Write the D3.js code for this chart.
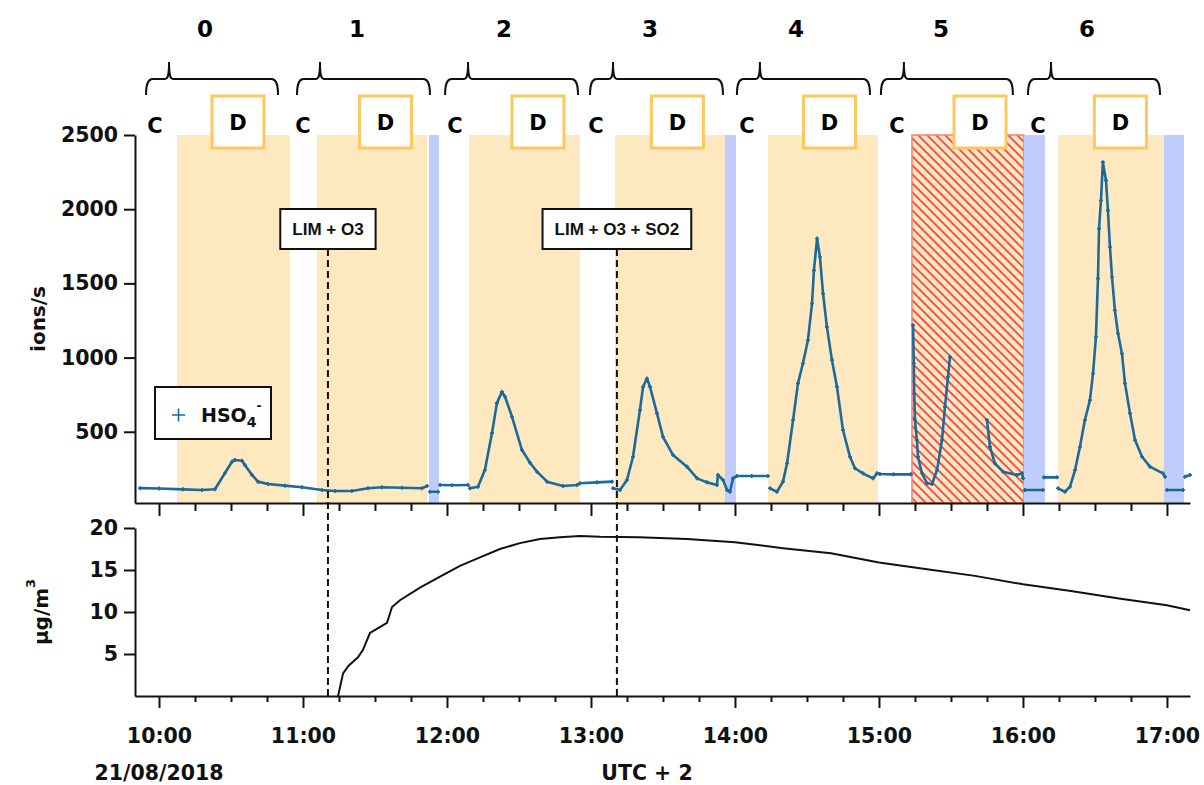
<!DOCTYPE html>
<html><head><meta charset="utf-8">
<script src="https://cdn.jsdelivr.net/npm/d3@7"></script>
<style>body{margin:0;background:#fff}svg{display:block}</style>
</head><body>
<svg id="c" width="1204" height="785"></svg>
<script>
// ---------- data (times in minutes since midnight, 21/08/2018, UTC+2) ----------
const hsoTime = [592.1,600,610,617.9,623.3,627.5,630.4,631.7,634.6,635.8,638.75,641.25,645.4,652.5,659.6,667.9,673.3,680.4,687.1,692.9,701.25,709.6,711.7,712.3,
 712.9,716.25,716.7,
 717.1,722,728.75,729.2,
 729.6,732.9,735.8,738.75,740.8,742.9,744.2,747.1,751.25,754.6,757.5,761.7,768.3,774.2,775.4,782.5,788.75,789.0,
 789.2,792.1,795,797.5,800.4,801.7,803.3,804.6,807.5,810,814.2,820,824.2,828.3,832.5,832.9,835,836.7,837.9,839.2,840.8,847,853.75,854.2,
 854.6,857.5,860,861.7,864.2,866.25,868.3,870.4,872.1,872.9,874.2,875.4,876.7,878.3,880.4,882.5,885,887.9,890,893.3,897.5,899.2,900.4,906,913.3,913.7,
 914.2,914.5,914.7,915,915.8,916.25,917.9,920,922.1,924.2,926.25,927.5,928.75,929.6,935,
 945,946.25,948.3,951.7,957.5,959.6,960,960.4,
 960.8,968.3,968.5,
 968.75,974.2,974.4,
 974.6,977.5,979.6,981.7,983.75,985.8,987.9,989.2,990.4,991.25,991.7,992.5,993.3,994.6,995.4,996.25,997.1,998.3,999.6,1001.25,1002.5,1004.6,1006.7,1009.6,1012.9,1018.3,1019.2,1019.6,
 1020,1026.7,1027.1,
 1027.5,1029.6];
const hsoValue = [120,118,112,108,113,222,298,310,305,276,209,164,148,137,126,108,101,101,119,126,123,119,135,null,
 96,96,null,
 141,140,141,null,
 119,130,242,491,693,769,736,601,377,291,231,164,135,141,153,159,164,null,
 119,108,175,332,646,803,859,803,624,466,343,265,186,159,141,209,175,108,96,186,202,202,202,null,
 119,96,164,287,579,826,960,1117,1364,1588,1802,1678,1431,1207,983,803,511,332,254,220,186,220,215,213,213,null,
 1218,960,758,579,444,332,220,153,148,242,444,668,870,1005,null,
 579,399,287,231,209,220,186,null,
 108,108,null,
 193,193,null,
 119,96,130,242,399,579,713,893,1139,1532,1869,2059,2317,2194,1992,1745,1543,1319,1162,1028,826,624,444,332,265,220,197,null,
 108,108,null,
 197,209];

const pmTime  = [674.6,676.7,679,682.9,685,687.9,692,695,697.1,700.4,708.75,717.1,725.4,733.75,742.1,750.4,758.75,767.1,775.4,783.75,800,820,840,860,880,900,920,940,960,980,1000,1020,1029.6];
const pmValue = [0,2.7,3.6,4.6,5.5,7.5,8.2,8.7,10.6,11.4,12.9,14.2,15.5,16.5,17.5,18.2,18.7,18.9,19.05,18.95,18.9,18.7,18.3,17.6,17.0,15.9,15.1,14.3,13.3,12.5,11.6,10.8,10.2];

// shaded periods
const dStart   = [607.5,665.8,729.2,790,853.75,913.75,974.6];
const dEnd     = [654.6,711.7,775.4,835.8,899.6,960.4,1018.75];
const dHatched = [false,false,false,false,false,true,false];
const blueStart = [712.5,835.8,960.4,1018.75];
const blueEnd   = [716.7,840.4,969.2,1027.1];

// experiment blocks
const blockLabels = ["0","1","2","3","4","5","6"];
const blockStart = [594.6,657.5,719.2,779.6,840.8,900.8,962.1];
const blockEnd   = [649.6,712.9,774.6,835,896.25,955.8,1017.1];
const blockLabelTime = [619.2,682.5,743.75,804.6,865.4,925.8,986.7];
const cLabelTime = [598.3,660,723.3,782.1,845,907.5,966.25];
const dLabelTime = [632.9,694.4,757.9,816,879.4,942.1,1000.6];

// events
const eventTime  = [670.4,790.8];
const eventLabel = ["LIM + O3","LIM + O3 + SO2"];

const yTopTicks = [500,1000,1500,2000,2500];
const yBotTicks = [5,10,15,20];
const xMajorTicks = [600,660,720,780,840,900,960,1020];
const xTickLabels = ["10:00","11:00","12:00","13:00","14:00","15:00","16:00","17:00"];

// ---------- drawing ----------
const svg = d3.select("#c");
const FONT = "'DejaVu Sans', Verdana, sans-serif";
const SERIES = "#1c6a98";
const ORANGE = "#fde8c0";
const BLUE = "#c0ccfb";

const x = d3.scaleLinear().domain([590, 1029.6]).range([135, 1190]);
const yTop = d3.scaleLinear().domain([20, 2500]).range([503, 135]);
const yBot = d3.scaleLinear().domain([0, 20]).range([696, 528]);

const defs = svg.append("defs");
const pat = defs.append("pattern").attr("id","hatch").attr("patternUnits","userSpaceOnUse")
  .attr("width",9).attr("height",9);
pat.append("rect").attr("width",9).attr("height",9).attr("fill","#fde6c4");
pat.append("path").attr("d","M0,0L9,9M-3,6L3,12M6,-3L12,3").attr("stroke","#f5483f").attr("stroke-width",1.8);

// shaded regions (top panel)
const regTop = yTop(2500), regBot = yTop(20);
svg.append("g").selectAll("rect").data(dStart).join("rect")
  .attr("x",(d)=>x(d)).attr("width",(d,i)=>x(dEnd[i])-x(d))
  .attr("y",regTop).attr("height",regBot-regTop)
  .attr("fill",(d,i)=>dHatched[i]?"url(#hatch)":ORANGE)
  .attr("stroke",(d,i)=>dHatched[i]?"#ff7a72":"none").attr("stroke-width",1.5);
svg.append("g").selectAll("rect").data(blueStart).join("rect")
  .attr("x",(d)=>x(d)).attr("width",(d,i)=>x(blueEnd[i])-x(d))
  .attr("y",regTop).attr("height",regBot-regTop).attr("fill",BLUE);

// braces + labels
const braceG = svg.append("g");
blockStart.forEach((s,i)=>{
  const x0 = x(s), x1 = x(blockEnd[i]), xp = x0+23;
  const p = `M${x0},95 C${x0},86 ${x0+1},79 ${x0+7},79 L${xp-4},79 C${xp-1},79 ${xp},75 ${xp},62 C${xp},75 ${xp+1},79 ${xp+4},79 L${x1-7},79 C${x1-1},79 ${x1},86 ${x1},95`;
  braceG.append("path").attr("d",p).attr("fill","none").attr("stroke","#111").attr("stroke-width",2);
  braceG.append("text").attr("x",x(blockLabelTime[i])).attr("y",37).attr("text-anchor","middle")
    .attr("font-family",FONT).attr("font-weight","bold").attr("font-size",23).text(blockLabels[i]);
  braceG.append("text").attr("x",x(cLabelTime[i])).attr("y",133).attr("text-anchor","middle")
    .attr("font-family",FONT).attr("font-weight","bold").attr("font-size",21).text("C");
  const dc = x(dLabelTime[i]);
  braceG.append("rect").attr("x",dc-26).attr("y",96).attr("width",52).attr("height",52)
    .attr("fill","#fff").attr("stroke","#ffc85f").attr("stroke-width",3);
  braceG.append("text").attr("x",dc).attr("y",130).attr("text-anchor","middle")
    .attr("font-family",FONT).attr("font-weight","bold").attr("font-size",21).text("D");
});

// top series
const pts = hsoTime.map((t,i)=>({t, v:hsoValue[i]}));
const line = d3.line().defined(d=>d.v!==null).x(d=>x(d.t)).y(d=>yTop(d.v));
svg.append("path").attr("d",line(pts)).attr("fill","none").attr("stroke",SERIES)
  .attr("stroke-width",2.6).attr("stroke-linejoin","round").attr("stroke-linecap","round");
svg.append("g").selectAll("path").data(pts.filter(d=>d.v!==null)).join("path")
  .attr("d",d=>{const cx=x(d.t), cy=yTop(d.v); return `M${cx-2},${cy}h4M${cx},${cy-2}v4`;})
  .attr("stroke",SERIES).attr("stroke-width",1.6);

// bottom series
const pmPts = pmTime.map((t,i)=>({t, v:pmValue[i]}));
svg.append("path").attr("d",d3.line().x(d=>x(d.t)).y(d=>yBot(d.v))(pmPts))
  .attr("fill","none").attr("stroke","#111").attr("stroke-width",2);

// axes
function styleAxis(g, size){
  g.selectAll("path.domain").attr("stroke","#111").attr("stroke-width",2);
  g.selectAll(".tick line").attr("stroke","#111").attr("stroke-width",2);
  g.selectAll("text").attr("font-family",FONT).attr("font-weight","bold").attr("font-size",size).attr("fill","#111");
}
const minorTicks = d3.range(600-15, 1030, 15).filter(v=>v>=590 && v%60!==0);

// top panel x axis
let g = svg.append("g").attr("transform","translate(0,503)")
  .call(d3.axisBottom(x).tickValues(xMajorTicks).tickSize(13).tickSizeOuter(0).tickFormat(""));
styleAxis(g, 20);
g = svg.append("g").attr("transform","translate(0,503)")
  .call(d3.axisBottom(x).tickValues(minorTicks).tickSize(8).tickSizeOuter(0).tickFormat(""));
g.select(".domain").remove(); styleAxis(g, 20);

// bottom panel x axis
g = svg.append("g").attr("transform","translate(0,696)")
  .call(d3.axisBottom(x).tickValues(xMajorTicks).tickSize(12).tickSizeOuter(0).tickPadding(20)
    .tickFormat((d,i)=>xTickLabels[i]));
styleAxis(g, 20.5);
g = svg.append("g").attr("transform","translate(0,696)")
  .call(d3.axisBottom(x).tickValues(minorTicks).tickSize(6).tickSizeOuter(0).tickFormat(""));
g.select(".domain").remove(); styleAxis(g, 20);

// y axes
g = svg.append("g").attr("transform","translate(135,0)")
  .call(d3.axisLeft(yTop).tickValues(yTopTicks).tickSize(11).tickSizeOuter(0).tickPadding(6).tickFormat(d3.format("d")));
styleAxis(g, 20.5);
g = svg.append("g").attr("transform","translate(135,0)")
  .call(d3.axisLeft(yBot).tickValues(yBotTicks).tickSize(11).tickSizeOuter(0).tickPadding(6).tickFormat(d3.format("d")));
styleAxis(g, 20.5);

// event dashed lines + boxes
eventTime.forEach((t,i)=>{
  const ex = x(t);
  svg.append("line").attr("x1",ex).attr("x2",ex).attr("y1",249).attr("y2",696)
    .attr("stroke","#111").attr("stroke-width",2).attr("stroke-dasharray","7,4");
  const txt = svg.append("text").attr("x",ex).attr("y",235).attr("text-anchor","middle")
    .attr("font-family","'Liberation Sans', Arial, sans-serif").attr("font-weight","bold")
    .attr("font-size",17).attr("fill","#111").text(eventLabel[i]);
  const bb = txt.node().getBBox();
  svg.insert("rect", () => txt.node()).attr("x",bb.x-12).attr("y",209).attr("width",bb.width+24).attr("height",40)
    .attr("fill","#fff").attr("stroke","#111").attr("stroke-width",2);
});

// legend
svg.append("rect").attr("x",155).attr("y",387).attr("width",116).attr("height",52)
  .attr("fill","#fff").attr("stroke","#111").attr("stroke-width",2);
svg.append("path").attr("d","M172,415h13M178.5,408.5v13").attr("stroke",SERIES).attr("stroke-width",1.6);
const lt = svg.append("text").attr("x",201).attr("y",422).attr("font-family",FONT)
  .attr("font-weight","bold").attr("font-size",19).attr("fill","#111");
lt.append("tspan").text("HSO");
lt.append("tspan").attr("font-size",14).attr("dy",5).text("4");
lt.append("tspan").attr("font-size",12).attr("dy",-17).attr("dx",0).text("-");

// axis titles
svg.append("text").attr("transform","translate(45,319) rotate(-90)").attr("text-anchor","middle")
  .attr("font-family",FONT).attr("font-weight","bold").attr("font-size",20).attr("fill","#111").text("ions/s");
const ut = svg.append("text").attr("transform","translate(48,612) rotate(-90)").attr("text-anchor","middle")
  .attr("font-family",FONT).attr("font-weight","bold").attr("font-size",20).attr("fill","#111");
ut.append("tspan").text("µg/m");
ut.append("tspan").attr("font-size",13).attr("dy",-13).text("3");

svg.append("text").attr("x",x(600)).attr("y",780).attr("text-anchor","middle")
  .attr("font-family",FONT).attr("font-weight","bold").attr("font-size",20.5).attr("fill","#111").text("21/08/2018");
svg.append("text").attr("x",647).attr("y",780).attr("text-anchor","middle")
  .attr("font-family",FONT).attr("font-weight","bold").attr("font-size",20.5).attr("fill","#111").text("UTC + 2");
</script>
</body></html>
